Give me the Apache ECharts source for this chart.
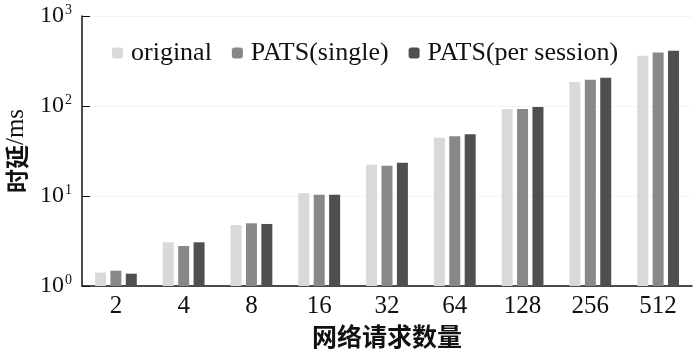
<!DOCTYPE html>
<html>
	<head>
		<meta charset="utf-8">
		<title>网络请求数量-时延</title>
	</head>
	<body style="margin:0;">
		<div id="container" style="width: 700px;height:355px;"></div>
	</body>
	<script src="https://cdn.jsdelivr.net/npm/echarts@6/dist/echarts.min.js"></script>
	<script type="text/javascript">
		'use strict'
		// 网络请求数量
		var categories = ['2', '4', '8', '16', '32', '64', '128', '256', '512'];
		// 时延(ms)
		var original = [1.41, 3.06, 4.76, 10.7, 22.3, 44.4, 92.6, 185, 362];
		var patsSingle = [1.48, 2.78, 4.97, 10.3, 21.7, 46, 92.6, 196, 394];
		var patsPerSession = [1.37, 3.06, 4.89, 10.3, 23.4, 48.4, 97.5, 206, 411];

		var serif = '"Liberation Serif", "Times New Roman", serif';
		var cjk = '"Noto Sans CJK SC", sans-serif';

		var myCharts = echarts.init(document.getElementById('container'));
		var option = {
			animation: false,
			textStyle: {
				fontFamily: serif
			},
			legend: {
				left: 107,
				top: 35,
				itemWidth: 11,
				itemHeight: 11,
				itemGap: 20,
				textStyle: {
					fontFamily: serif,
					fontSize: 26,
					color: '#111',
					padding: [0, 0, 0, 3]
				},
				data: ['original', 'PATS(single)', 'PATS(per session)']
			},
			grid: {
				left: 82,
				right: 8,
				top: 16,
				bottom: 69,
				outerBoundsMode: 'none'
			},
			xAxis: {
				type: 'category',
				data: categories,
				name: '网络请求数量',
				nameLocation: 'middle',
				nameGap: 38,
				nameTextStyle: {
					fontFamily: cjk,
					fontSize: 25,
					fontWeight: 'bold',
					color: '#111'
				},
				axisLine: {
					lineStyle: {
						color: '#111',
						width: 1.5
					}
				},
				axisTick: {
					show: false
				},
				axisLabel: {
					fontFamily: serif,
					fontSize: 25,
					color: '#111',
					margin: 8
				}
			},
			yAxis: {
				type: 'log',
				logBase: 10,
				min: 1,
				max: 1000,
				name: '{c|时延}{s|/ms}',
				nameLocation: 'middle',
				nameGap: 46,
				nameTextStyle: {
					rich: {
						c: {
							fontFamily: cjk,
							fontSize: 24,
							fontWeight: 'bold',
							color: '#111'
						},
						s: {
							fontFamily: serif,
							fontSize: 25,
							color: '#111'
						}
					}
				},
				axisLine: {
					show: true,
					lineStyle: {
						color: '#111',
						width: 1.5
					}
				},
				axisTick: {
					show: true,
					inside: true,
					length: 8,
					lineStyle: {
						color: '#111'
					}
				},
				splitLine: {
					show: true,
					lineStyle: {
						color: '#f4f4f4'
					}
				},
				axisLabel: {
					margin: 10,
					formatter: function(v) {
						return '{b|10}{s|' + Math.round(Math.log10(v)) + '}';
					},
					rich: {
						b: {
							fontFamily: serif,
							fontSize: 24,
							color: '#111'
						},
						s: {
							fontFamily: serif,
							fontSize: 14,
							color: '#111',
							verticalAlign: 'top',
							padding: [0, 0, 12, 1]
						}
					}
				}
			},
			series: [
				{
					name: 'original',
					type: 'bar',
					data: original,
					barWidth: 11,
					barGap: '40%',
					itemStyle: {
						color: '#d9d9d9'
					}
				},
				{
					name: 'PATS(single)',
					type: 'bar',
					data: patsSingle,
					barWidth: 11,
					barGap: '40%',
					itemStyle: {
						color: '#888888'
					}
				},
				{
					name: 'PATS(per session)',
					type: 'bar',
					data: patsPerSession,
					barWidth: 11,
					barGap: '40%',
					itemStyle: {
						color: '#4f4f4f'
					}
				}
			]
		};
		myCharts.setOption(option);
	</script>
</html>
